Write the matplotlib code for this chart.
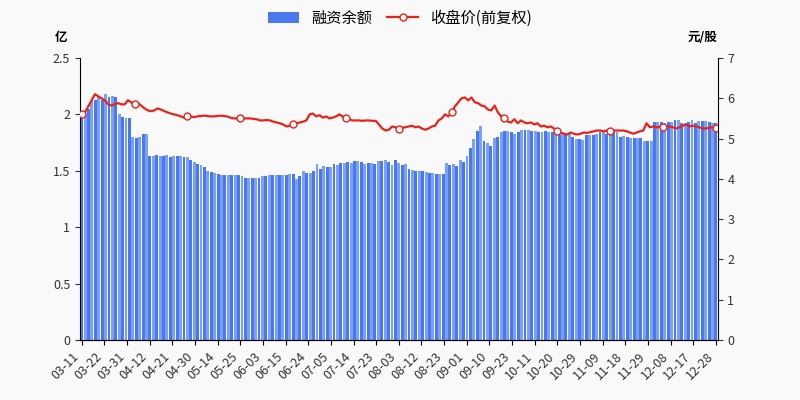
import matplotlib
matplotlib.use("Agg")
import matplotlib.pyplot as plt
import numpy as np

plt.rcParams['font.family'] = ['Noto Sans CJK SC', 'DejaVu Sans']

tick_labels = ["03-11","03-22","03-31","04-12","04-21","04-30","05-14","05-25","06-03","06-15",
               "06-24","07-05","07-14","07-23","08-03","08-12","08-23","09-01","09-10","09-23",
               "10-11","10-20","10-29","11-09","11-18","11-29","12-08","12-17","12-28"]

margin = [1.97,2.0,2.05,2.12,2.13,2.15,2.13,2.18,2.15,2.16,2.15,2.0,1.98,1.97,1.97,1.8,1.79,1.8,1.83,1.83,
          1.63,1.63,1.64,1.63,1.63,1.64,1.62,1.63,1.63,1.63,1.62,1.62,1.6,1.58,1.56,1.55,1.53,1.5,1.49,1.48,
          1.47,1.46,1.46,1.46,1.46,1.46,1.46,1.45,1.44,1.44,1.44,1.44,1.44,1.45,1.45,1.46,1.46,1.46,1.46,1.46,
          1.46,1.47,1.47,1.43,1.45,1.5,1.48,1.48,1.5,1.56,1.52,1.54,1.53,1.53,1.56,1.55,1.57,1.57,1.58,1.57,
          1.59,1.59,1.58,1.56,1.57,1.57,1.56,1.59,1.59,1.6,1.58,1.55,1.6,1.57,1.55,1.56,1.52,1.51,1.5,1.5,
          1.5,1.49,1.48,1.48,1.47,1.47,1.47,1.57,1.55,1.56,1.54,1.6,1.58,1.63,1.7,1.78,1.85,1.9,1.76,1.75,
          1.72,1.79,1.8,1.84,1.85,1.85,1.84,1.83,1.84,1.86,1.86,1.86,1.85,1.85,1.84,1.84,1.85,1.84,1.84,1.83,
          1.82,1.83,1.83,1.83,1.8,1.78,1.78,1.77,1.82,1.82,1.82,1.83,1.84,1.84,1.83,1.83,1.84,1.84,1.8,1.81,
          1.8,1.79,1.79,1.79,1.79,1.76,1.76,1.76,1.93,1.93,1.93,1.92,1.93,1.93,1.95,1.95,1.92,1.92,1.93,1.95,
          1.92,1.94,1.94,1.94,1.93,1.92,1.92]

price = [5.6,5.65,5.8,5.95,6.1,6.05,6.0,5.95,5.85,5.82,5.85,5.88,5.85,5.85,5.95,5.9,5.85,5.88,5.82,5.75,
         5.7,5.68,5.7,5.75,5.72,5.68,5.65,5.62,5.6,5.58,5.55,5.52,5.55,5.55,5.53,5.55,5.56,5.57,5.56,5.55,
         5.55,5.56,5.57,5.56,5.55,5.52,5.5,5.5,5.52,5.5,5.5,5.5,5.49,5.48,5.45,5.45,5.46,5.45,5.42,5.4,
         5.38,5.35,5.3,5.32,5.35,5.38,5.4,5.42,5.45,5.6,5.62,5.55,5.58,5.52,5.55,5.5,5.52,5.55,5.6,5.55,
         5.5,5.48,5.45,5.45,5.45,5.44,5.45,5.45,5.44,5.44,5.35,5.25,5.2,5.22,5.3,5.28,5.25,5.27,5.28,5.3,
         5.32,5.28,5.3,5.25,5.22,5.25,5.3,5.32,5.45,5.5,5.6,5.55,5.65,5.8,5.9,6.0,6.02,5.95,6.02,5.9,
         5.88,5.82,5.8,5.72,5.7,5.82,5.65,5.55,5.5,5.42,5.4,5.48,5.38,5.45,5.4,5.38,5.4,5.35,5.38,5.3,
         5.32,5.28,5.3,5.25,5.2,5.15,5.12,5.1,5.15,5.12,5.1,5.12,5.15,5.14,5.16,5.18,5.2,5.2,5.18,5.2,
         5.2,5.2,5.2,5.2,5.2,5.18,5.15,5.12,5.15,5.18,5.2,5.38,5.28,5.3,5.28,5.3,5.28,5.3,5.3,5.28,
         5.25,5.28,5.32,5.35,5.3,5.32,5.3,5.28,5.25,5.25,5.27,5.28,5.26]

n = len(margin)
x = np.arange(n)
xp = np.linspace(0, n - 1, len(price))

fig = plt.figure(figsize=(8, 4), dpi=100, facecolor='#f9f9f9')
ax = fig.add_axes([0.1, 0.15, 0.797, 0.705])
ax.set_facecolor('#f9f9f9')
colors = ['#4a78ef' if i % 2 == 0 else '#7aa0f7' for i in range(n)]
ax.bar(x, margin, width=0.85, color=colors, label='融资余额')
ax.set_xlim(-0.5, n - 0.5)
ax.set_ylim(0, 2.5)
ax.set_yticks([0, 0.5, 1, 1.5, 2, 2.5])
ax.set_yticklabels(['0', '0.5', '1', '1.5', '2', '2.5'])
ticks = np.linspace(0, n - 1, len(tick_labels))
ax.set_xticks(ticks)
ax.set_xticklabels(tick_labels, rotation=45, ha='right', fontsize=9, color='#333')
ax.tick_params(axis='y', labelsize=9, colors='#333')
for s in ['top', 'right']:
    ax.spines[s].set_visible(False)
ax.text(-0.02, 1.06, '亿', transform=ax.transAxes, fontsize=9, ha='right', weight='bold')

ax2 = ax.twinx()
ax2.plot(xp, price, color='#e8231b', lw=1.6, marker='o', markersize=5, markerfacecolor='white',
         markeredgecolor='#e8231b', markevery=16, label='收盘价(前复权)')
ax2.set_ylim(0, 7)
ax2.set_yticks(range(8))
ax2.tick_params(axis='y', labelsize=9, colors='#333')
for s in ['top', 'left']:
    ax2.spines[s].set_visible(False)
ax2.text(1.0, 1.06, '元/股', transform=ax.transAxes, fontsize=9, ha='right', weight='bold')

h1, l1 = ax.get_legend_handles_labels()
h2, l2 = ax2.get_legend_handles_labels()
fig.legend(h1 + h2, l1 + l2, loc='upper center', ncol=2, frameon=False, fontsize=11,
           bbox_to_anchor=(0.5, 1.01), handlelength=2, columnspacing=1)
fig.savefig('out.png', dpi=100, facecolor='#f9f9f9')
